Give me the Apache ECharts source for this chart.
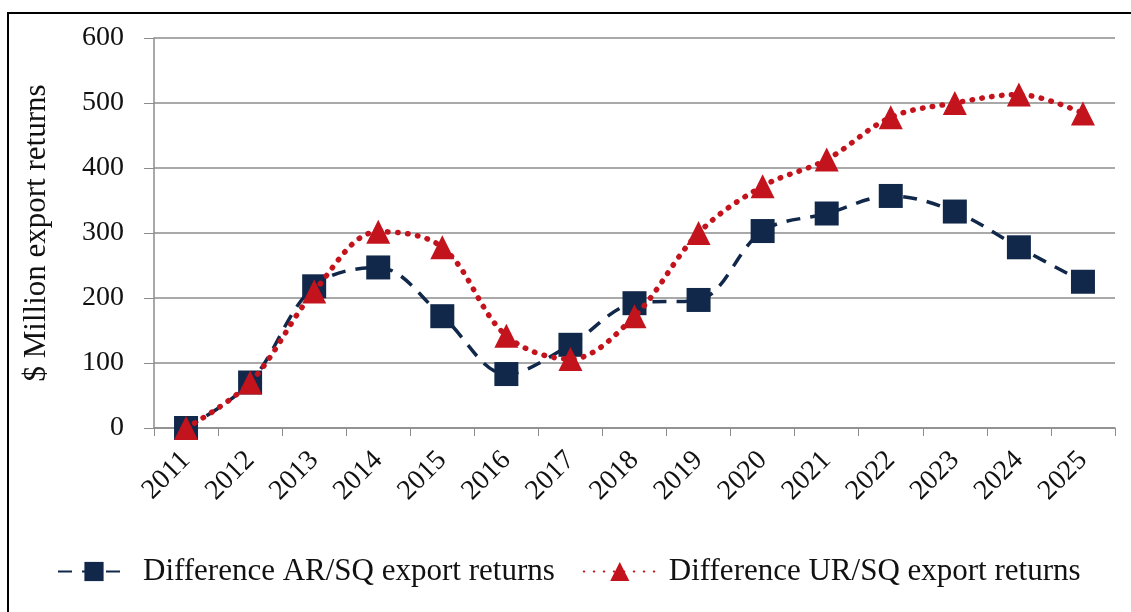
<!DOCTYPE html>
<html>
<head>
<meta charset="utf-8">
<script src="https://cdn.jsdelivr.net/npm/echarts@6/dist/echarts.min.js"></script>
<style>
  html, body { margin: 0; padding: 0; background: #fff; }
  #chart { width: 1131px; height: 612px; }
</style>
</head>
<body>
<div id="chart"></div>
<script>
// years on the x axis
const years = ["2011", "2012", "2013", "2014", "2015", "2016", "2017", "2018",
  "2019", "2020", "2021", "2022", "2023", "2024", "2025"]

// Difference AR/SQ export returns ($ million)
const arSq = [0, 70, 218, 247, 172, 83, 128, 192, 197, 303, 330, 357, 333, 278, 225]

// Difference UR/SQ export returns ($ million)
const urSq = [0, 70, 210, 302, 278, 142, 106, 172, 300, 372, 413, 478, 500, 513, 484]

const yTicks = { min: 0, max: 600, interval: 100 }

const font = "Liberation Serif"
const navy = "#11284a"
const red = "#c3141e"

const chart = echarts.init(document.getElementById("chart"))
chart.setOption({
  animation: false,
  grid: { left: 154, right: 16, top: 38, bottom: 184 },
  // frame round the figure (top and left edge visible)
  graphic: [{
    type: "polyline",
    shape: { points: [[8, 640], [8, 13], [1140, 13]] },
    style: { stroke: "#000", lineWidth: 2, fill: null }
  }],
  legend: {
    bottom: 20,
    left: 52,
    itemWidth: 72,
    itemHeight: 24,
    itemGap: 28,
    textStyle: { fontFamily: font, fontSize: 31, color: "#111", padding: [0, 0, 0, 8] },
    data: ["Difference AR/SQ export returns", "Difference UR/SQ export returns"]
  },
  xAxis: {
    type: "category",
    data: years,
    boundaryGap: true,
    axisLine: { lineStyle: { color: "#8c8c8c", width: 1.5 } },
    axisTick: { show: true, length: 8, lineStyle: { color: "#8c8c8c" } },
    axisLabel: {
      rotate: 45,
      interval: 0,
      margin: 28,
      fontFamily: font,
      fontSize: 28,
      color: "#111"
    }
  },
  yAxis: {
    type: "value",
    min: yTicks.min,
    max: yTicks.max,
    interval: yTicks.interval,
    name: "$ Million export returns",
    nameLocation: "middle",
    nameGap: 102,
    nameTextStyle: { fontFamily: font, fontSize: 31, color: "#111" },
    axisLine: { show: true, lineStyle: { color: "#8c8c8c", width: 1.5 } },
    axisTick: { show: true, length: 10, lineStyle: { color: "#8c8c8c" } },
    axisLabel: { margin: 30, fontFamily: font, fontSize: 28, color: "#111" },
    splitLine: { lineStyle: { color: "#8c8c8c", width: 1.5 } }
  },
  series: [
    {
      name: "Difference AR/SQ export returns",
      type: "line",
      data: arSq,
      smooth: 0.35,
      symbol: "rect",
      symbolSize: 24,
      itemStyle: { color: navy },
      lineStyle: { color: navy, width: 3.5, type: [14, 10] },
      z: 2
    },
    {
      name: "Difference UR/SQ export returns",
      type: "line",
      data: urSq,
      smooth: 0.35,
      symbol: "triangle",
      symbolSize: 24,
      itemStyle: { color: red },
      lineStyle: { color: red, width: 5.5, type: [0.5, 9.5], cap: "round" },
      z: 3
    }
  ]
})
</script>
</body>
</html>
